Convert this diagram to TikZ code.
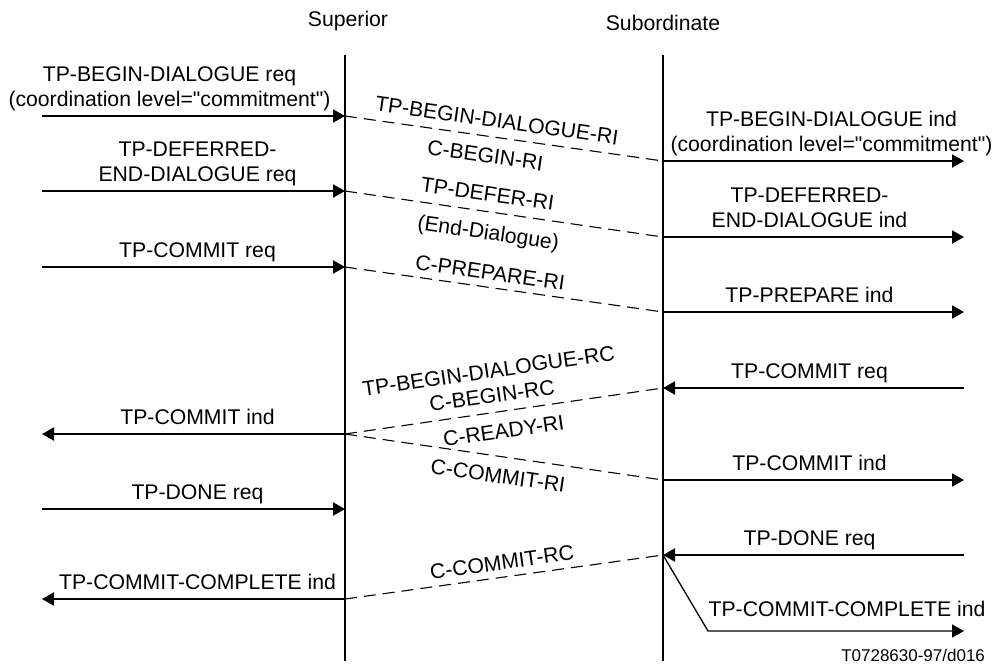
\documentclass[tikz,border=0pt]{standalone}
\usepackage{fontspec}
\setmainfont{Liberation Sans}
\usetikzlibrary{arrows.meta}

\begin{document}
\begin{tikzpicture}[x=0.5pt,y=-0.5pt,
    font=\fontsize{10.6}{12.5}\selectfont,
    >={Triangle[length=6pt,width=6.5pt]},
    prim/.style={line width=1pt},
    conf/.style={line width=0.55pt,dash pattern=on 6pt off 3.5pt},
    lbl/.style={inner sep=0pt,text depth=0pt,align=center,above=4.5pt},
    dlbl/.style={sloped,inner sep=0pt,text height=7.6pt,text depth=0pt,align=center}]
  \useasboundingbox (0,0) rectangle (999,666);
  % the two users
  \node (sup) at (348,21) {Superior};
  \node (sub) at (663,23) {Subordinate};
  \coordinate (supTop) at (345,55); \coordinate (supBot) at (345,661);
  \coordinate (subTop) at (663,55); \coordinate (subBot) at (663,661);
  \draw[prim] (supTop) -- (supBot);
  \draw[prim] (subTop) -- (subBot);
  % events on the superior side
  \coordinate (s1) at (345,116); \coordinate (a1) at (42,116);
  \coordinate (s2) at (345,191); \coordinate (a2) at (42,191);
  \coordinate (s3) at (345,267); \coordinate (a3) at (42,267);
  \coordinate (s4) at (345,434); \coordinate (a4) at (42,434);
  \coordinate (s5) at (345,509); \coordinate (a5) at (42,509);
  \coordinate (s6) at (345,599); \coordinate (a6) at (42,599);
  % events on the subordinate side
  \coordinate (t1) at (663,161); \coordinate (b1) at (964,161);
  \coordinate (t2) at (663,237); \coordinate (b2) at (964,237);
  \coordinate (t3) at (663,312); \coordinate (b3) at (964,312);
  \coordinate (t4) at (663,388); \coordinate (b4) at (964,388);
  \coordinate (t5) at (663,480); \coordinate (b5) at (964,480);
  \coordinate (t6) at (663,555); \coordinate (b6) at (964,555);
  \coordinate (t7) at (708,631); \coordinate (b7) at (964,631);
  % primitives, superior
  \draw[prim,->] (a1) -- (s1) node[lbl,midway,xshift=-12pt] (reqBegin)
    {TP-BEGIN-DIALOGUE req\\(coordination level=\textquotedbl commitment\textquotedbl)};
  \draw[prim,->] (a2) -- (s2) node[lbl,midway,xshift=2pt] (reqDefer)
    {TP-DEFERRED-\\END-DIALOGUE req};
  \draw[prim,->] (a3) -- (s3) node[lbl,midway,xshift=2pt] (reqCommit) {TP-COMMIT req};
  \draw[prim,->] (s4) -- (a4) node[lbl,midway,xshift=2pt] (indCommit) {TP-COMMIT ind};
  \draw[prim,->] (a5) -- (s5) node[lbl,midway,xshift=2pt] (reqDone) {TP-DONE req};
  \draw[prim,->] (s6) -- (a6) node[lbl,midway,xshift=2pt] (indComplete)
    {TP-COMMIT-COMPLETE ind};
  % primitives, subordinate
  \draw[prim,->] (t1) -- (b1) node[lbl,midway,xshift=9pt] (indBeginS)
    {TP-BEGIN-DIALOGUE ind\\(coordination level=\textquotedbl commitment\textquotedbl)};
  \draw[prim,->] (t2) -- (b2) node[lbl,midway,xshift=-2pt] (indDeferS)
    {TP-DEFERRED-\\END-DIALOGUE ind};
  \draw[prim,->] (t3) -- (b3) node[lbl,midway,xshift=-2pt] (indPrepareS) {TP-PREPARE ind};
  \draw[prim,->] (b4) -- (t4) node[lbl,midway,xshift=-2pt] (reqCommitS) {TP-COMMIT req};
  \draw[prim,->] (t5) -- (b5) node[lbl,midway,xshift=-2pt] (indCommitS) {TP-COMMIT ind};
  \draw[prim,->] (b6) -- (t6) node[lbl,midway,xshift=-2pt] (reqDoneS) {TP-DONE req};
  \draw[line width=0.65pt,->] (t6) -- (t7) -- (b7)
    node[lbl,midway,yshift=2.5pt,xshift=5.5pt] (indCompleteS) {TP-COMMIT-COMPLETE ind};
  % protocol exchanges
  \draw[conf] (s1) -- (t1)
    node[dlbl,pos=.47,above=4.5pt] (riBegin) {TP-BEGIN-DIALOGUE-RI}
    node[dlbl,pos=.45,below=5.5pt] (cBegin) {C-BEGIN-RI};
  \draw[conf] (s2) -- (t2)
    node[dlbl,pos=.44,above=5pt] (riDefer) {TP-DEFER-RI}
    node[dlbl,pos=.46,below=6pt] (endDlg) {(End-Dialogue)};
  \draw[conf] (s3) -- (t3)
    node[dlbl,pos=.45,above=3.5pt] (cPrepare) {C-PREPARE-RI};
  \draw[conf] (s4) -- (t4)
    node[dlbl,pos=.47,above=4.5pt] (rcBegin) {TP-BEGIN-DIALOGUE-RC\\C-BEGIN-RC}
    node[dlbl,pos=.49,below=5.5pt] (cReady) {C-READY-RI};
  \draw[conf] (s4) -- (t5)
    node[dlbl,pos=.49,below=5.5pt] (cCommit) {C-COMMIT-RI};
  \draw[conf] (s6) -- (t6)
    node[dlbl,pos=.5,above=3.5pt] (cCommitRc) {C-COMMIT-RC};
  \node[font=\fontsize{8.5}{10}\selectfont,anchor=east] (figTag) at (992,655) {T0728630-97/d016};
\end{tikzpicture}
\end{document}
